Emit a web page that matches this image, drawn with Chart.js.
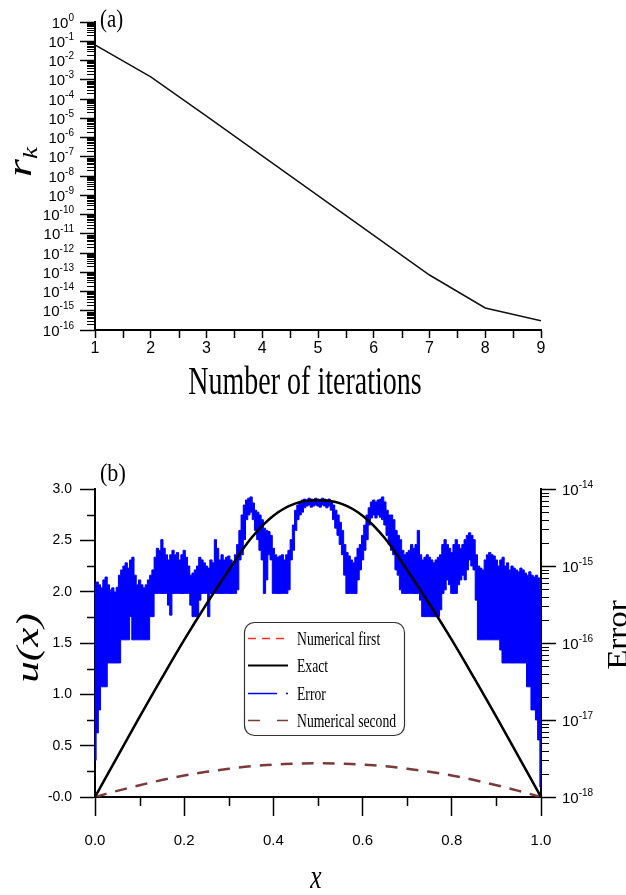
<!DOCTYPE html>
<html>
<head>
<meta charset="utf-8">
<script src="https://cdn.jsdelivr.net/npm/chart.js@4.4.0/dist/chart.umd.min.js"></script>
<style>
  html, body { margin: 0; padding: 0; background: #fff; }
  #wrap { position: relative; width: 626px; height: 895px; overflow: hidden; }
  canvas { position: absolute; left: 0; }
  #chartA { top: 0; }
  #chartB { top: 420px; }
</style>
</head>
<body>
<div id="wrap">
  <canvas id="chartA" width="626" height="420"></canvas>
  <canvas id="chartB" width="626" height="475"></canvas>
</div>
<script>
// ---- (a) residual r_k against iteration count ----
const iterations = [1, 2, 3, 4, 5, 6, 7, 8, 9];
const residuals = [6.4e-2, 1.4e-3, 1.3e-5, 1.1e-7, 9.5e-10, 8.3e-12, 7.2e-14, 1.4e-15, 3.0e-16];
const iterTicks = [1, 2, 3, 4, 5, 6, 7, 8, 9];
const iterTickLabels = ['1', '2', '3', '4', '5', '6', '7', '8', '9'];
const iterMinor = [1.5, 2.5, 3.5, 4.5, 5.5, 6.5, 7.5, 8.5];
const rTicks = [1e-16, 1e-15, 1e-14, 1e-13, 1e-12, 1e-11, 1e-10, 1e-9, 1e-8, 1e-7, 1e-6, 1e-5, 1e-4, 1e-3, 1e-2, 1e-1, 1];
// tick labels are 10^exp, these are the exponents
const rTickExps = ['-16', '-15', '-14', '-13', '-12', '-11', '-10', '-9', '-8', '-7', '-6', '-5', '-4', '-3', '-2', '-1', '0'];
const logMinorSteps = [2, 3, 4, 5, 6, 7, 8, 9];

// ---- (b) solution u(x) and error ----
const xs = [0, 0.05, 0.1, 0.15, 0.2, 0.25, 0.3, 0.35, 0.4, 0.45, 0.5, 0.55, 0.6, 0.65, 0.7, 0.75, 0.8, 0.85, 0.9, 0.95, 1];
const uExact = [0, 0.39, 0.78, 1.16, 1.53, 1.88, 2.21, 2.52, 2.74, 2.86, 2.89, 2.86, 2.74, 2.52, 2.21, 1.88, 1.53, 1.16, 0.78, 0.39, 0];
const uFirst = [0, 0.39, 0.78, 1.16, 1.53, 1.88, 2.21, 2.52, 2.74, 2.86, 2.89, 2.86, 2.74, 2.52, 2.21, 1.88, 1.53, 1.16, 0.78, 0.39, 0];
const uSecond = [0, 0.06, 0.115, 0.165, 0.21, 0.245, 0.275, 0.3, 0.315, 0.325, 0.33, 0.325, 0.315, 0.3, 0.275, 0.245, 0.21, 0.165, 0.115, 0.06, 0];

// error band, sampled every errStep in x: upper and lower envelope
const errStep = 0.005;
const errHigh = [
  6.0e-16, 6.2e-16, 5.7e-16, 5.2e-16, 6.6e-16, 7.2e-16, 5.7e-16, 4.9e-16, 5.2e-16, 4.6e-16,
  5.3e-16, 7.6e-16, 8.9e-16, 1.0e-15, 1.1e-15, 9.4e-16, 1.2e-15, 1.3e-15, 7.6e-16, 5.7e-16,
  6.6e-16, 5.7e-16, 5.2e-16, 5.7e-16, 6.6e-16, 7.6e-16, 8.9e-16, 1.3e-15, 1.7e-15, 1.6e-15,
  2.2e-15, 1.7e-15, 1.4e-15, 1.2e-15, 1.4e-15, 1.6e-15, 1.4e-15, 1.5e-15, 1.2e-15, 1.4e-15,
  1.6e-15, 1.3e-15, 1.0e-15, 7.6e-16, 8.1e-16, 8.9e-16, 1.0e-15, 1.3e-15, 1.2e-15, 1.1e-15,
  1.0e-15, 9.4e-16, 1.2e-15, 1.1e-15, 2.2e-15, 1.7e-15, 1.2e-15, 1.4e-15, 1.2e-15, 1.3e-15,
  1.35e-15, 1.2e-15, 1.1e-15, 1.4e-15, 1.9e-15, 2.9e-15, 4.6e-15, 6.2e-15, 7.2e-15, 7.6e-15,
  7.9e-15, 6.6e-15, 5.3e-15, 5.0e-15, 4.6e-15, 4.0e-15, 3.1e-15, 2.9e-15, 2.8e-15, 2.5e-15,
  1.7e-15, 1.4e-15, 1.3e-15, 1.35e-15, 1.4e-15, 1.2e-15, 1.4e-15, 1.6e-15, 2.2e-15, 3.4e-15,
  5.3e-15, 6.2e-15, 6.8e-15, 7.2e-15, 7.4e-15, 7.2e-15, 7.6e-15, 7.4e-15, 7.2e-15, 7.6e-15,
  7.4e-15, 7.2e-15, 7.6e-15, 7.4e-15, 7.2e-15, 7.4e-15, 7.0e-15, 6.2e-15, 5.3e-15, 4.6e-15,
  3.7e-15, 2.9e-15, 1.9e-15, 1.5e-15, 1.35e-15, 1.2e-15, 1.1e-15, 1.3e-15, 1.7e-15, 1.9e-15,
  2.5e-15, 3.4e-15, 4.6e-15, 5.7e-15, 6.8e-15, 7.2e-15, 6.8e-15, 7.2e-15, 7.4e-15, 7.9e-15,
  6.8e-15, 5.3e-15, 4.6e-15, 4.6e-15, 4.0e-15, 2.9e-15, 2.5e-15, 2.2e-15, 1.6e-15, 1.4e-15,
  1.5e-15, 1.6e-15, 1.9e-15, 1.7e-15, 1.9e-15, 2.9e-15, 1.4e-15, 1.2e-15, 1.3e-15, 1.4e-15,
  1.3e-15, 1.2e-15, 1.1e-15, 1.2e-15, 1.3e-15, 1.4e-15, 1.9e-15, 2.2e-15, 1.9e-15, 1.7e-15,
  1.5e-15, 1.9e-15, 2.2e-15, 1.9e-15, 1.7e-15, 1.9e-15, 2.2e-15, 2.5e-15, 2.7e-15, 2.5e-15,
  2.2e-15, 1.4e-15, 1.0e-15, 9.4e-16, 8.9e-16, 1.2e-15, 1.4e-15, 1.5e-15, 1.4e-15, 1.35e-15,
  1.2e-15, 1.0e-15, 1.2e-15, 1.3e-15, 1.0e-15, 1.1e-15, 8.9e-16, 1.0e-15, 9.4e-16, 8.9e-16,
  8.4e-16, 9.4e-16, 8.9e-16, 8.1e-16, 7.6e-16, 8.4e-16, 7.6e-16, 7.2e-16, 7.6e-16, 7.0e-16,
  4.9e-16
];
const errLow = [
  3.0e-18, 6.8e-18, 1.35e-17, 2.7e-17, 2.7e-17, 2.7e-17, 5.5e-17, 5.5e-17, 5.5e-17, 5.5e-17,
  5.5e-17, 5.5e-17, 1.1e-16, 1.1e-16, 1.1e-16, 1.1e-16, 2.2e-16, 1.1e-16, 1.1e-16, 1.1e-16,
  1.1e-16, 1.1e-16, 1.1e-16, 1.1e-16, 1.1e-16, 2.2e-16, 2.2e-16, 4.4e-16, 4.4e-16, 4.4e-16,
  4.4e-16, 4.4e-16, 4.4e-16, 3.1e-16, 2.3e-16, 4.4e-16, 4.4e-16, 4.4e-16, 4.4e-16, 4.4e-16,
  4.4e-16, 4.4e-16, 4.4e-16, 3.1e-16, 2.2e-16, 2.2e-16, 2.2e-16, 3.6e-16, 4.4e-16, 4.4e-16,
  4.4e-16, 2.2e-16, 4.4e-16, 4.4e-16, 4.4e-16, 4.4e-16, 4.4e-16, 4.4e-16, 4.4e-16, 4.4e-16,
  4.4e-16, 4.4e-16, 4.4e-16, 4.4e-16, 4.9e-16, 1.2e-15, 1.4e-15, 2.2e-15, 4.0e-15, 4.6e-15,
  5.0e-15, 4.0e-15, 2.9e-15, 2.2e-15, 1.6e-15, 1.2e-15, 4.4e-16, 6.6e-16, 1.4e-15, 1.2e-15,
  4.4e-16, 4.4e-16, 4.4e-16, 4.4e-16, 4.4e-16, 4.4e-16, 4.4e-16, 4.9e-16, 1.2e-15, 1.6e-15,
  2.9e-15, 4.0e-15, 4.6e-15, 5.0e-15, 5.7e-15, 6.0e-15, 6.2e-15, 5.8e-15, 6.0e-15, 6.2e-15,
  6.0e-15, 5.8e-15, 6.2e-15, 6.0e-15, 5.7e-15, 6.0e-15, 5.3e-15, 4.0e-15, 3.1e-15, 2.5e-15,
  1.9e-15, 1.4e-15, 7.6e-16, 4.4e-16, 4.4e-16, 4.4e-16, 4.4e-16, 4.4e-16, 6.6e-16, 8.9e-16,
  1.2e-15, 1.6e-15, 2.2e-15, 3.4e-15, 4.2e-15, 4.6e-15, 4.2e-15, 4.6e-15, 4.3e-15, 4.0e-15,
  3.4e-15, 2.5e-15, 1.9e-15, 1.6e-15, 1.4e-15, 8.9e-16, 7.6e-16, 4.9e-16, 4.4e-16, 4.4e-16,
  4.4e-16, 4.4e-16, 4.4e-16, 4.4e-16, 4.4e-16, 4.4e-16, 3.6e-16, 2.2e-16, 2.2e-16, 2.2e-16,
  2.2e-16, 2.2e-16, 2.2e-16, 2.2e-16, 2.2e-16, 2.7e-16, 4.4e-16, 4.9e-16, 6.6e-16, 5.7e-16,
  4.4e-16, 4.4e-16, 4.4e-16, 5.7e-16, 6.6e-16, 7.6e-16, 6.6e-16, 8.9e-16, 1.2e-15, 1.0e-15,
  8.9e-16, 3.6e-16, 1.1e-16, 1.1e-16, 1.1e-16, 1.1e-16, 1.1e-16, 1.1e-16, 1.1e-16, 1.1e-16,
  1.1e-16, 1.1e-16, 8.1e-17, 5.5e-17, 5.5e-17, 5.5e-17, 5.5e-17, 5.5e-17, 5.5e-17, 5.5e-17,
  5.5e-17, 5.5e-17, 5.5e-17, 5.5e-17, 2.7e-17, 2.7e-17, 1.35e-17, 1.35e-17, 1.0e-17, 5.5e-18,
  1.35e-18
];

const xTicks = [0, 0.2, 0.4, 0.6, 0.8, 1];
const xTickLabels = ['0.0', '0.2', '0.4', '0.6', '0.8', '1.0'];
const xMinor = [0.1, 0.3, 0.5, 0.7, 0.9];
const uTicks = [0, 0.5, 1, 1.5, 2, 2.5, 3];
const uTickLabels = ['-0.0', '0.5', '1.0', '1.5', '2.0', '2.5', '3.0'];
const uMinor = [0.25, 0.75, 1.25, 1.75, 2.25, 2.75];
const errTicks = [1e-18, 1e-17, 1e-16, 1e-15, 1e-14];
const errTickExps = ['-18', '-17', '-16', '-15', '-14'];

const SANS = "'Liberation Sans', Arial, sans-serif";
const SERIF = "'Liberation Serif', 'Times New Roman', serif";

const pts = (xv, yv) => xv.map((x, i) => ({ x: x, y: yv[i] }));
const errX = errHigh.map((_, i) => i * errStep);
const decadeMinors = (decades) => decades.slice(0, -1).flatMap(d => logMinorSteps.map(m => m * d));

// short unlabeled ticks, drawn through each scale
const minorTicks = {
    id: 'minorTicks',
    afterDraw(chart, args, opts) {
        const ctx = chart.ctx;
        (opts.axes || []).forEach(a => {
            const s = chart.scales[a.id];
            ctx.save();
            ctx.strokeStyle = '#000';
            ctx.lineWidth = a.width;
            ctx.beginPath();
            a.values.forEach(v => {
                const p = Math.round(s.getPixelForValue(v)) + 0.5;
                if (s.isHorizontal()) {
                    ctx.moveTo(p, s.top); ctx.lineTo(p, s.top + a.length);
                } else if (s.position === 'left') {
                    ctx.moveTo(s.right - a.length, p); ctx.lineTo(s.right, p);
                } else {
                    ctx.moveTo(s.left, p); ctx.lineTo(s.left + a.length, p);
                }
            });
            ctx.stroke();
            ctx.restore();
        });
    }
};

// "10" with a raised exponent at each decade tick of a log axis
const powerLabels = {
    id: 'powerLabels',
    afterDraw(chart, args, opts) {
        const ctx = chart.ctx;
        (opts.axes || []).forEach(a => {
            const s = chart.scales[a.id];
            s.ticks.forEach((t, i) => {
                const y = s.getPixelForValue(t.value);
                ctx.save();
                ctx.fillStyle = '#000';
                ctx.textAlign = 'left';
                ctx.textBaseline = 'alphabetic';
                ctx.font = '15px ' + SANS;
                const wBase = ctx.measureText('10').width;
                ctx.font = '10px ' + SANS;
                const wExp = ctx.measureText(a.exps[i]).width;
                const x0 = s.position === 'left' ? s.right - a.gap - wBase - wExp : s.left + a.gap;
                ctx.font = '15px ' + SANS;
                ctx.fillText('10', x0, y + 5.5);
                ctx.font = '10px ' + SANS;
                ctx.fillText(a.exps[i], x0 + wBase, y - 1.5);
                ctx.restore();
            });
        });
    }
};

// titles and panel marks (glyphs a bit condensed like the source figure)
const texts = {
    id: 'texts',
    afterDraw(chart, args, opts) {
        const ctx = chart.ctx;
        (opts.items || []).forEach(it => {
            ctx.save();
            ctx.translate(it.x, it.y);
            if (it.rotate) ctx.rotate(it.rotate);
            ctx.scale(it.sx || 1, 1);
            ctx.fillStyle = '#000';
            ctx.textAlign = 'left';
            ctx.textBaseline = 'alphabetic';
            let total = 0;
            it.parts.forEach(p => { ctx.font = p.font; total += ctx.measureText(p.t).width; });
            let cx = it.align === 'left' ? 0 : -total / 2;
            it.parts.forEach(p => {
                ctx.font = p.font;
                ctx.fillText(p.t, cx, p.dy || 0);
                cx += ctx.measureText(p.t).width;
            });
            ctx.restore();
        });
    }
};

// boxed legend sitting inside the plot
const boxLegend = {
    id: 'boxLegend',
    afterDraw(chart, args, opts) {
        const { ctx, chartArea } = chart;
        const bx = chartArea.left + opts.left;
        const by = chartArea.top + opts.top;
        ctx.save();
        ctx.strokeStyle = '#333';
        ctx.lineWidth = 1.2;
        ctx.beginPath();
        ctx.roundRect(bx + 0.5, by + 0.5, opts.width, opts.height, 10);
        ctx.stroke();
        const items = chart.data.datasets.filter(d => d.label);
        items.forEach((d, i) => {
            const ly = Math.round(by + opts.firstRow + i * opts.rowGap) + 0.5;
            ctx.setLineDash(d.legendDash || []);
            ctx.strokeStyle = d.borderColor;
            ctx.lineWidth = d.legendWidth || d.borderWidth;
            ctx.beginPath();
            ctx.moveTo(bx + 4, ly);
            ctx.lineTo(bx + 44, ly);
            ctx.stroke();
            ctx.setLineDash([]);
            ctx.save();
            ctx.translate(bx + 53, ly + 6);
            ctx.scale(0.72, 1);
            ctx.fillStyle = '#000';
            ctx.font = '19px ' + SERIF;
            ctx.fillText(d.label, 0, 0);
            ctx.restore();
        });
        ctx.restore();
    }
};

const axisGrid = (len) => ({ drawOnChartArea: false, color: '#000', tickLength: len, tickWidth: 1.5 });
const axisBorder = { color: '#000', width: 2 };

// ---------- chart (a) ----------
new Chart(document.getElementById('chartA'), {
    type: 'line',
    data: {
        datasets: [{
            data: pts(iterations, residuals),
            borderColor: '#111',
            borderWidth: 1.5,
            pointRadius: 0,
            tension: 0
        }]
    },
    options: {
        responsive: false,
        animation: false,
        events: [],
        layout: { padding: { top: 22, right: 85, left: 0, bottom: 0 } },
        scales: {
            x: {
                type: 'linear', min: 1, max: 9,
                afterBuildTicks: s => { s.ticks = iterTicks.map(v => ({ value: v })); },
                afterFit: s => { s.height = 90; },
                grid: axisGrid(8),
                border: axisBorder,
                ticks: {
                    autoSkip: false, maxRotation: 0, padding: 1, color: '#000',
                    font: { family: SANS, size: 16 },
                    callback: (v, i) => iterTickLabels[i]
                }
            },
            y: {
                type: 'logarithmic', min: 1e-16, max: 1,
                afterBuildTicks: s => { s.ticks = rTicks.map(v => ({ value: v })); },
                afterFit: s => { s.width = 95; },
                grid: axisGrid(15),
                border: axisBorder,
                ticks: { display: false, autoSkip: false }
            }
        },
        plugins: {
            legend: { display: false },
            tooltip: { enabled: false },
            minorTicks: {
                axes: [
                    { id: 'x', values: iterMinor, length: 8, width: 1.5 },
                    { id: 'y', values: decadeMinors(rTicks), length: 8, width: 1 }
                ]
            },
            powerLabels: { axes: [{ id: 'y', exps: rTickExps, gap: 21 }] },
            texts: {
                items: [
                    { x: 100, y: 27, align: 'left', sx: 0.8, parts: [{ t: '(a)', font: '26px ' + SERIF }] },
                    { x: 305, y: 394, sx: 0.7, parts: [{ t: 'Number of iterations', font: '40px ' + SERIF }] },
                    { x: 31, y: 162, rotate: -Math.PI / 2, sx: 1.35, parts: [
                        { t: 'r', font: 'italic 34px ' + SERIF },
                        { t: 'k', font: 'italic 20px ' + SERIF, dy: 6 }
                    ] }
                ]
            }
        }
    },
    plugins: [minorTicks, powerLabels, texts]
});

// ---------- chart (b) ----------
new Chart(document.getElementById('chartB'), {
    type: 'line',
    data: {
        datasets: [
            {
                label: 'Numerical first', data: pts(xs, uFirst), yAxisID: 'y',
                borderColor: '#ff2a2a', borderWidth: 1.5, borderDash: [8, 5],
                legendDash: [8, 6], legendWidth: 1.5,
                pointRadius: 0, tension: 0.35, order: 3
            },
            {
                label: 'Exact', data: pts(xs, uExact), yAxisID: 'y',
                borderColor: '#000', borderWidth: 2.5, legendWidth: 2,
                pointRadius: 0, tension: 0.35, order: 0
            },
            {
                label: 'Error', data: pts(errX, errHigh), yAxisID: 'y2',
                borderColor: '#0000ff', backgroundColor: '#0000ff', borderWidth: 1,
                stepped: 'middle', fill: '+1',
                legendDash: [29, 9, 2, 200], legendWidth: 1.5,
                pointRadius: 0, order: 2
            },
            {
                data: pts(errX, errLow), yAxisID: 'y2',
                borderColor: '#0000ff', borderWidth: 1,
                stepped: 'middle', fill: false,
                pointRadius: 0, order: 2
            },
            {
                label: 'Numerical second', data: pts(xs, uSecond), yAxisID: 'y',
                borderColor: '#7b3b3b', borderWidth: 2.5, borderDash: [12, 9],
                legendDash: [12, 17], legendWidth: 1.5,
                pointRadius: 0, tension: 0.35, order: 1
            }
        ]
    },
    options: {
        responsive: false,
        animation: false,
        events: [],
        layout: { padding: { top: 69, right: 0, left: 0, bottom: 0 } },
        scales: {
            x: {
                type: 'linear', min: 0, max: 1,
                afterBuildTicks: s => { s.ticks = xTicks.map(v => ({ value: v })); },
                afterFit: s => { s.height = 98; },
                grid: axisGrid(19),
                border: axisBorder,
                ticks: {
                    autoSkip: false, maxRotation: 0, padding: 16, color: '#000',
                    font: { family: SANS, size: 15 },
                    callback: (v, i) => xTickLabels[i]
                }
            },
            y: {
                type: 'linear', position: 'left', min: 0, max: 3,
                afterBuildTicks: s => { s.ticks = uTicks.map(v => ({ value: v })); },
                afterFit: s => { s.width = 95; },
                grid: axisGrid(15),
                border: axisBorder,
                ticks: {
                    autoSkip: false, padding: 8, color: '#000',
                    font: { family: SANS, size: 14 },
                    callback: (v, i) => uTickLabels[i]
                }
            },
            y2: {
                type: 'logarithmic', position: 'right', min: 1e-18, max: 1e-14,
                afterBuildTicks: s => { s.ticks = errTicks.map(v => ({ value: v })); },
                afterFit: s => { s.width = 85; },
                grid: axisGrid(15),
                border: axisBorder,
                ticks: { display: false, autoSkip: false }
            }
        },
        plugins: {
            legend: { display: false },
            tooltip: { enabled: false },
            minorTicks: {
                axes: [
                    { id: 'x', values: xMinor, length: 9, width: 1.5 },
                    { id: 'y', values: uMinor, length: 8, width: 1.5 },
                    { id: 'y2', values: decadeMinors(errTicks), length: 8, width: 1 }
                ]
            },
            powerLabels: { axes: [{ id: 'y2', exps: errTickExps, gap: 21 }] },
            boxLegend: { left: 149, top: 133, width: 160, height: 113, firstRow: 16, rowGap: 27.3 },
            texts: {
                items: [
                    { x: 100, y: 61, align: 'left', sx: 0.85, parts: [{ t: '(b)', font: '26px ' + SERIF }] },
                    { x: 38, y: 228, rotate: -Math.PI / 2, sx: 1.35, parts: [{ t: 'u(x)', font: 'italic 32px ' + SERIF }] },
                    { x: 627, y: 215, rotate: -Math.PI / 2, sx: 1.1, parts: [{ t: 'Error', font: '30px ' + SERIF }] },
                    { x: 316, y: 468, sx: 0.75, parts: [{ t: 'x', font: 'italic 34px ' + SERIF }] }
                ]
            }
        }
    },
    plugins: [minorTicks, powerLabels, texts, boxLegend]
});
</script>
</body>
</html>
